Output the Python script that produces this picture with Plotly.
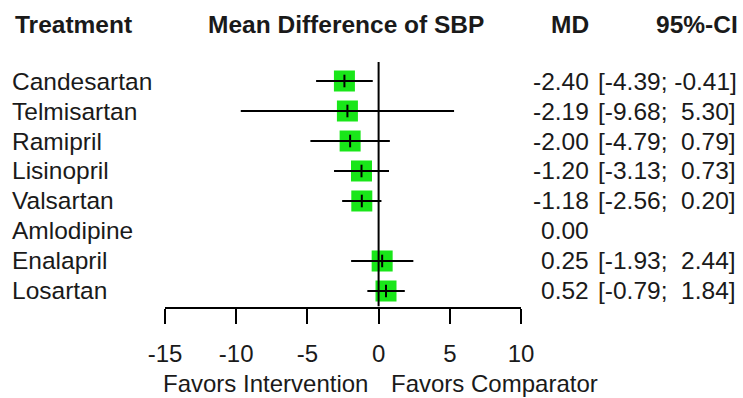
import plotly.graph_objects as go

# Network meta-analysis: mean difference of systolic blood pressure vs Amlodipine
treatments = ["Candesartan", "Telmisartan", "Ramipril", "Lisinopril",
              "Valsartan", "Amlodipine", "Enalapril", "Losartan"]
md = [-2.40, -2.19, -2.00, -1.20, -1.18, 0.00, 0.25, 0.52]
ci_lower = [-4.39, -9.68, -4.79, -3.13, -2.56, None, -1.93, -0.79]
ci_upper = [-0.41, 5.30, 0.79, 0.73, 0.20, None, 2.44, 1.84]
x_ticks = [-15, -10, -5, 0, 5, 10]

W, H = 743, 398
FONT = "Liberation Sans, Arial, sans-serif"
TXT = "#1a1a1a"
GREEN = "#19e619"
FS = 24.5
FS_AXIS = 24

def px(x):
    return x / W

def py(y):
    return 1 - y / H

rows = list(range(len(treatments)))
# treatments with an interval get a square and a CI line
est_rows = [i for i in rows if ci_lower[i] is not None]
est_x = [md[i] for i in est_rows]
err_plus = [ci_upper[i] - md[i] for i in est_rows]
err_minus = [md[i] - ci_lower[i] for i in est_rows]

fig = go.Figure()

fig.add_trace(go.Scatter(
    x=est_x, y=est_rows, mode="markers",
    marker=dict(symbol="square", size=21, color=GREEN, line=dict(width=0)),
    hoverinfo="skip", showlegend=False,
))
fig.add_trace(go.Scatter(
    x=est_x, y=est_rows, mode="markers",
    marker=dict(symbol="line-ns-open", size=9, color="black",
                line=dict(width=2, color="black")),
    error_x=dict(type="data", symmetric=False, array=err_plus, arrayminus=err_minus,
                 thickness=2, width=0, color="black"),
    hoverinfo="skip", showlegend=False,
))

# line of no effect
fig.add_shape(type="line", xref="x", yref="y", x0=0, x1=0, y0=-0.633, y1=7.52,
              line=dict(color="black", width=2))

ann = []
# column headers
hdr_y = py(25)
ann.append(dict(text="<b>Treatment</b>", x=px(13), y=hdr_y, xanchor="left"))
ann.append(dict(text="<b>Mean Difference of SBP</b>", x=px(346), y=hdr_y, xanchor="center"))
ann.append(dict(text="<b>MD</b>", x=px(591), y=hdr_y, xanchor="right"))
ann.append(dict(text="<b>95%-CI</b>", x=px(740), y=hdr_y, xanchor="right"))
for a in ann:
    a.update(xref="paper", yref="paper", yanchor="middle")

for i in rows:
    ann.append(dict(text=treatments[i], xref="paper", yref="y", x=px(10), y=i,
                    xanchor="left", yanchor="middle"))
    ann.append(dict(text=f"{md[i]:.2f}", xref="paper", yref="y", x=px(591), y=i,
                    xanchor="right", yanchor="middle"))
    if ci_lower[i] is not None:
        ci = f"[{ci_lower[i]:5.2f}; {ci_upper[i]:5.2f}]".replace(" ", "\u00a0")
        ann.append(dict(text=ci, xref="paper", yref="y", x=px(595.5), y=i,
                        xanchor="left", yanchor="middle"))

for a in ann:
    a.update(showarrow=False, font=dict(family=FONT, size=FS, color=TXT))

# direction labels under the axis
for label, shift, anchor in [("Favors Intervention", -9, "right"),
                             ("Favors Comparator", 10, "left")]:
    ann.append(dict(text=label, xref="x", yref="paper", x=0, y=py(383),
                    xshift=shift, xanchor=anchor, yanchor="middle", showarrow=False,
                    font=dict(family=FONT, size=FS_AXIS, color=TXT)))

fig.update_layout(
    width=W, height=H,
    margin=dict(l=0, r=0, t=0, b=0, autoexpand=False),
    paper_bgcolor="white", plot_bgcolor="white",
    annotations=ann,
    xaxis=dict(
        domain=[px(165), px(521)], range=[-15, 10], automargin=False,
        tickmode="array", tickvals=x_ticks, ticktext=[str(t) for t in x_ticks],
        ticks="outside", ticklen=15, tickwidth=2, tickcolor="black",
        showline=True, linewidth=2, linecolor="black",
        showgrid=False, zeroline=False,
        tickfont=dict(family=FONT, size=FS_AXIS, color=TXT),
        ticklabelstandoff=10,
    ),
    yaxis=dict(
        domain=[py(306.5), 1], range=[7.517, -2.7], automargin=False,
        visible=False, showgrid=False, zeroline=False,
    ),
)

fig.write_html("out.html")
